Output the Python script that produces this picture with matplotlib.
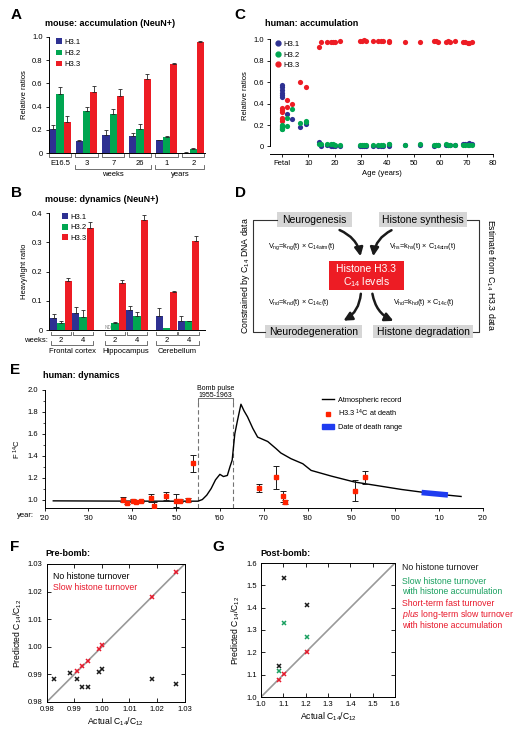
import numpy as np
import matplotlib
matplotlib.use('Agg')
import matplotlib.pyplot as plt
from matplotlib.patches import Rectangle, FancyArrowPatch, Patch
from matplotlib.lines import Line2D

plt.rcParams['font.family'] = ['Liberation Sans', 'DejaVu Sans']
plt.rcParams['mathtext.fontset'] = 'custom'
plt.rcParams['mathtext.rm'] = 'Liberation Sans'
plt.rcParams['mathtext.it'] = 'Liberation Sans:italic'
plt.rcParams['mathtext.bf'] = 'Liberation Sans:bold'
plt.rcParams['mathtext.default'] = 'regular'
plt.rcParams['axes.linewidth'] = 0.7

BLUE = '#2e3192'
GREEN = '#00a651'
RED = '#ed1c24'

# ---- A: mouse accumulation
a_groups = ['E16.5', '3', '7', '26', '1', '2']
a_h31 = [0.21, 0.10, 0.155, 0.145, 0.11, 0.003]
a_h31_err = [0.03, 0.01, 0.045, 0.03, 0.005, 0.002]
a_h32 = [0.51, 0.36, 0.34, 0.21, 0.14, 0.035]
a_h32_err = [0.055, 0.04, 0.035, 0.043, 0.005, 0.006]
a_h33 = [0.27, 0.525, 0.49, 0.635, 0.765, 0.958]
a_h33_err = [0.045, 0.055, 0.06, 0.05, 0.012, 0.008]

# ---- B: mouse dynamics
b_weeks = ['2', '4', '2', '4', '2', '4']
b_regions = ['Frontal cortex', 'Hippocampus', 'Cerebellum']
b_h31 = [0.042, 0.057, 0.0, 0.067, 0.049, 0.032]
b_h31_err = [0.014, 0.022, 0.0, 0.015, 0.026, 0.016]
b_h32 = [0.023, 0.045, 0.025, 0.049, 0.008, 0.03]
b_h32_err = [0.008, 0.023, 0.004, 0.013, 0.0, 0.001]
b_h33 = [0.166, 0.349, 0.159, 0.375, 0.129, 0.303]
b_h33_err = [0.011, 0.019, 0.013, 0.019, 0.006, 0.018]

# ---- C: human accumulation
c_blue_age = [0, 0, 0, 0, 0, 0, 2, 4, 7, 9]
c_blue = [0.57, 0.55, 0.53, 0.50, 0.48, 0.465, 0.30, 0.255, 0.185, 0.205]
c_green_age = [0, 0, 0, 0, 0, 0, 2, 2, 4, 7, 9, 9]
c_green = [0.20, 0.19, 0.18, 0.17, 0.165, 0.16, 0.27, 0.19, 0.345, 0.215, 0.23, 0.24]
c_red_age = [0, 0, 0, 0, 0, 0, 2, 2, 4, 7, 9]
c_red = [0.355, 0.34, 0.325, 0.27, 0.257, 0.24, 0.435, 0.37, 0.40, 0.60, 0.55]
adult_age = [14, 15, 17, 18.5, 19.5, 20, 22, 29.5, 30.5, 31.3, 32, 34.5, 36.5, 37.5, 38.5,
             40.5, 40.7, 46.5, 52.5, 57.5, 58.5, 59, 62.2, 63, 63.8, 65.5, 68.5, 69.5, 70.5, 71, 72]
adult_red = [0.93, 0.978, 0.97, 0.97, 0.972, 0.975, 0.985, 0.98, 0.985, 0.99, 0.98, 0.985, 0.985,
             0.985, 0.98, 0.985, 0.975, 0.975, 0.97, 0.98, 0.98, 0.97, 0.975, 0.98, 0.97, 0.98,
             0.97, 0.975, 0.96, 0.965, 0.97]
adult_blue = [0.045, 0.0, 0.01, 0.005, 0.0, 0.0, 0.0, 0.005, 0.0, 0.005, 0.0, 0.005, 0.0, 0.0, 0.005,
              0.01, 0.005, 0.01, 0.01, 0.005, 0.01, 0.01, 0.01, 0.015, 0.01, 0.01, 0.02, 0.025, 0.02,
              0.03, 0.02]
adult_green = [0.025, 0.02, 0.02, 0.02, 0.02, 0.015, 0.01, 0.015, 0.01, 0.015, 0.01, 0.015, 0.01,
               0.015, 0.01, 0.02, 0.02, 0.015, 0.02, 0.01, 0.015, 0.015, 0.02, 0.01, 0.015, 0.01,
               0.015, 0.015, 0.01, 0.015, 0.015]

# ---- E: human dynamics
atm_year = [1922, 1935, 1945, 1955, 1956, 1957, 1958, 1959, 1960, 1960.8, 1961.7, 1962.3, 1962.8,
            1963.4, 1964, 1964.8, 1965.5, 1966.3, 1967.5, 1968.6, 1970.9, 1972.8, 1973.9, 1976.2,
            1978.9, 1980.8, 1985.4, 1990.7, 2001.4, 2009, 2015]
atm_f14c = [0.988, 0.986, 0.985, 0.985, 1.0, 1.04, 1.1, 1.18, 1.23, 1.21, 1.22, 1.3, 1.36, 1.6, 1.72,
            1.87, 1.81, 1.755, 1.65, 1.57, 1.53, 1.465, 1.425, 1.373, 1.327, 1.266, 1.214, 1.16,
            1.092, 1.052, 1.028]
death_year = [2006, 2012]
death_f14c = [1.064, 1.042]
pt_year = [1937.8, 1938.8, 1940.1, 1940.9, 1941.9, 1944.4, 1944.9, 1947.8, 1949.9, 1950.9, 1952.7,
           1953.9, 1969.0, 1972.9, 1974.5, 1974.9, 1990.9, 1993.0]
pt_f14c = [1.0, 0.965, 0.99, 0.975, 0.99, 1.015, 0.945, 1.03, 0.99, 0.99, 0.995, 1.33, 1.105, 1.205,
           1.028, 0.98, 1.08, 1.205]
pt_err = [0.02, 0.01, 0.015, 0.01, 0.01, 0.035, 0.03, 0.035, 0.06, 0.015, 0.015, 0.08, 0.035, 0.105,
          0.05, 0.02, 0.095, 0.06]

# ---- F: pre-bomb
f_actual = [0.9827, 0.9884, 0.9908, 0.9929, 0.9949, 0.9988, 1.0001, 1.018, 1.0267]
f_none = [0.9884, 0.9904, 0.9882, 0.9854, 0.9853, 0.9908, 0.9921, 0.9884, 0.9864]
f_slow_actual = [0.9908, 0.9929, 0.9949, 0.9988, 1.0001, 1.018, 1.0267]
f_slow = [0.9911, 0.993, 0.995, 0.9992, 1.0008, 1.0182, 1.0272]

# ---- G: post-bomb
g_actual = [1.081, 1.102, 1.206]
g_none = [1.140, 1.531, 1.411]
g_slow = [1.116, 1.330, 1.267]
g_fast = [1.078, 1.101, 1.200]

W, H = 521, 736
fig = plt.figure(figsize=(W / 100, H / 100), dpi=100)


def rect(x0, y0, x1, y1):
    return [x0 / W, 1 - y1 / H, (x1 - x0) / W, (y1 - y0) / H]


def fmt01(v, pos=None):
    return '0' if abs(v) < 1e-9 else f'{v:.1f}'


def bracket(ax, x0, x1, y, h=0.025, color='0.35'):
    ax.plot([x0, x0, x1, x1], [y + h, y, y, y + h], transform=ax.get_xaxis_transform(),
            clip_on=False, color=color, lw=0.6)


def err_up(ax, x, vals, errs):
    x = np.asarray(x)
    vals = np.asarray(vals)
    errs = np.asarray(errs)
    m = errs > 0
    ax.errorbar(x[m], vals[m], yerr=[np.zeros(m.sum()), errs[m]], fmt='none', ecolor='0.15',
                elinewidth=0.6, capsize=1.6, capthick=0.6)


# overlay for letters, titles, diagram
ov = fig.add_axes([0, 0, 1, 1], zorder=-1)
ov.set_xlim(0, W)
ov.set_ylim(H, 0)
ov.axis('off')

for letter, x, y in [('A', 16, 15), ('B', 16, 193), ('C', 240, 15), ('D', 240, 193),
                     ('E', 15, 370), ('F', 15, 547), ('G', 218, 547)]:
    ov.text(x, y, letter, fontsize=11, fontweight='bold', ha='center', va='center')
for title, x, y in [('mouse: accumulation (NeuN+)', 45, 24), ('mouse: dynamics (NeuN+)', 45, 199),
                    ('human: accumulation', 265, 23), ('human: dynamics', 43, 376),
                    ('Pre-bomb:', 45, 553), ('Post-bomb:', 260, 554)]:
    ov.text(x, y, title, fontsize=6.5, fontweight='bold', ha='left', va='center')

# ---------------- A
ax = fig.add_axes(rect(49, 37, 205, 153))
bw = 0.27
xa = np.arange(len(a_groups))
for k, (vals, errs, col, lab) in enumerate([(a_h31, a_h31_err, BLUE, 'H3.1'),
                                            (a_h32, a_h32_err, GREEN, 'H3.2'),
                                            (a_h33, a_h33_err, RED, 'H3.3')]):
    xs = xa + (k - 1) * bw
    ax.bar(xs, vals, width=bw, color=col, label=lab, zorder=2)
    err_up(ax, xs, vals, errs)
ax.set_xlim(-0.41, 5.44)
ax.set_ylim(0, 1.0)
ax.set_yticks(np.arange(0, 1.01, 0.2))
ax.yaxis.set_major_formatter(fmt01)
ax.set_xticks([])
ax.spines[['top', 'right']].set_visible(False)
ax.tick_params(axis='y', labelsize=5.5, length=2.5, width=0.6, pad=2)
ax.set_ylabel('Relative ratios', fontsize=5.5, labelpad=3)
ax.legend(loc='upper left', bbox_to_anchor=(0.02, 1.02), frameon=False, fontsize=5.5,
          handlelength=0.8, handleheight=0.8, handletextpad=0.3, labelspacing=0.45, borderpad=0)
for i, g in enumerate(a_groups):
    bracket(ax, i - 0.42, i + 0.42, -0.035)
    ax.text(i, -0.088, g, transform=ax.get_xaxis_transform(), ha='center', va='center', fontsize=5.5)
bracket(ax, 1 - 0.42, 3 + 0.42, -0.135, 0.03)
ax.text(2, -0.185, 'weeks', transform=ax.get_xaxis_transform(), ha='center', va='center', fontsize=5.5)
bracket(ax, 4 - 0.42, 5 + 0.42, -0.135, 0.03)
ax.text(4.5, -0.185, 'years', transform=ax.get_xaxis_transform(), ha='center', va='center', fontsize=5.5)

# ---------------- B
ax = fig.add_axes(rect(49, 213, 205, 330))
bw = 0.33
xb = np.arange(6) + np.repeat([0, 0.45, 0.8], 2)
for k, (vals, errs, col, lab) in enumerate([(b_h31, b_h31_err, BLUE, 'H3.1'),
                                            (b_h32, b_h32_err, GREEN, 'H3.2'),
                                            (b_h33, b_h33_err, RED, 'H3.3')]):
    xs = xb + (k - 1) * bw
    ax.bar(xs, vals, width=bw, color=col, label=lab, zorder=2)
    err_up(ax, xs, vals, errs)
ax.text(xb[2] - bw, 0.001, 'ND', fontsize=3.5, color='0.55', ha='center', va='bottom')
ax.set_xlim(-0.55, 6.55)
ax.set_ylim(0, 0.4)
ax.set_yticks(np.arange(0, 0.41, 0.1))
ax.yaxis.set_major_formatter(fmt01)
ax.set_xticks([])
ax.spines[['top', 'right']].set_visible(False)
ax.tick_params(axis='y', labelsize=5.5, length=2.5, width=0.6, pad=2)
ax.set_ylabel('Heavy/light ratio', fontsize=5.5, labelpad=3)
ax.legend(loc='upper left', bbox_to_anchor=(0.06, 1.03), frameon=False, fontsize=5.5,
          handlelength=0.8, handleheight=0.8, handletextpad=0.3, labelspacing=0.38, borderpad=0)
for i, wk in enumerate(b_weeks):
    bracket(ax, xb[i] - 0.47, xb[i] + 0.47, -0.043)
    ax.text(xb[i], -0.088, wk, transform=ax.get_xaxis_transform(), ha='center', va='center', fontsize=5.5)
ax.text(-0.62, -0.088, 'weeks:', transform=ax.get_xaxis_transform(), ha='right', va='center', fontsize=5.5)
for j, reg in enumerate(b_regions):
    bracket(ax, xb[2 * j] - 0.47, xb[2 * j + 1] + 0.47, -0.128, 0.03)
    ax.text((xb[2 * j] + xb[2 * j + 1]) / 2, -0.18, reg, transform=ax.get_xaxis_transform(),
            ha='center', va='center', fontsize=5.5)

# ---------------- C
ax = fig.add_axes(rect(270, 37, 493, 154))
ax.scatter(c_red_age + adult_age, c_red + adult_red, s=14, color=RED, lw=0, zorder=2)
ax.scatter(c_blue_age + adult_age, c_blue + adult_blue, s=14, color=BLUE, lw=0, zorder=3)
ax.scatter(c_green_age + adult_age, c_green + adult_green, s=14, color=GREEN, lw=0, zorder=4)
ax.set_xlim(-4.5, 80)
ax.set_ylim(-0.07, 1.02)
ax.set_xticks(range(0, 81, 10))
ax.set_xticklabels(['Fetal'] + [str(v) for v in range(10, 81, 10)])
ax.set_yticks(np.arange(0, 1.01, 0.2))
ax.yaxis.set_major_formatter(fmt01)
ax.spines[['top', 'right']].set_visible(False)
ax.spines['left'].set_bounds(0, 1.0)
ax.tick_params(labelsize=5.5, length=2.5, width=0.6, pad=2)
ax.set_ylabel('Relative ratios', fontsize=5.5, labelpad=3)
ax.set_xlabel('Age (years)', fontsize=5.5, labelpad=2)
hc = [Line2D([], [], marker='o', ls='', color=c, ms=3.5, label=l)
      for c, l in [(BLUE, 'H3.1'), (GREEN, 'H3.2'), (RED, 'H3.3')]]
ax.legend(handles=hc, loc='upper left', bbox_to_anchor=(0.005, 1.0), frameon=False, fontsize=5.5,
          handlelength=0.8, handletextpad=0.3, labelspacing=0.4, borderpad=0)

# ---------------- D (diagram)
gray = '#d6d6d6'
boxes = [('Neurogenesis', 277, 212, 352, 227), ('Histone synthesis', 379, 212, 467, 227),
         ('Neurodegeneration', 265, 325, 362, 338), ('Histone degradation', 373, 325, 473, 338)]
for txt, x0, y0, x1, y1 in boxes:
    ov.add_patch(Rectangle((x0, y0), x1 - x0, y1 - y0, color=gray, lw=0))
    ov.text((x0 + x1) / 2, (y0 + y1) / 2 + 0.5, txt, ha='center', va='center', fontsize=7.5)
ov.add_patch(Rectangle((329, 261), 75, 29, color=RED, lw=0))
ov.text(366.5, 269, 'Histone H3.3', ha='center', va='center', fontsize=7.5, color='white')
ov.text(366.5, 282, r'C$_{14}$ levels', ha='center', va='center', fontsize=7.5, color='white')
ov.plot([277, 253, 253, 265], [219.5, 219.5, 331.5, 331.5], color='0.2', lw=0.8)
ov.plot([467, 479, 479, 473], [219.5, 219.5, 331.5, 331.5], color='0.2', lw=0.8)
ov.text(246, 275, r'Constrained by C$_{14}$ DNA data', rotation=90, ha='center', va='center', fontsize=6.3)
ov.text(490, 275, r'Estimate from C$_{14}$ H3.3 data', rotation=-90, ha='center', va='center', fontsize=6.3)
eq = 5.2
ov.text(268, 247, r'V$_{ng}$=k$_{ng}$(t) × C$_{14atm}$(t)', ha='left', va='center', fontsize=eq)
ov.text(389, 247, r'V$_{hs}$=k$_{hs}$(t) × C$_{14atm}$(t)', ha='left', va='center', fontsize=eq)
ov.text(268, 303, r'V$_{nd}$=k$_{nd}$(t) × C$_{14c}$(t)', ha='left', va='center', fontsize=eq)
ov.text(393, 303, r'V$_{hd}$=k$_{hd}$(t) × C$_{14c}$(t)', ha='left', va='center', fontsize=eq)
for (p0, p1, rad) in [((337, 229), (361, 259), -0.3), ((394, 229), (373, 259), 0.3),
                      ((361, 291), (341, 322), -0.3), ((372, 291), (396, 322), 0.3)]:
    ov.add_patch(FancyArrowPatch(p0, p1, connectionstyle=f'arc3,rad={rad}',
                                 arrowstyle='-|>,head_length=0.5,head_width=0.25',
                                 mutation_scale=10, lw=1.8, color='0.1'))

# ---------------- E
ax = fig.add_axes(rect(44.5, 390, 483, 508.3))
ax.plot(atm_year, atm_f14c, color='black', lw=1.0, zorder=2, label='Atmospheric record')
ax.plot(death_year, death_f14c, color='#1f3cf0', lw=4, solid_capstyle='butt', zorder=3)
ax.errorbar(pt_year, pt_f14c, yerr=pt_err, fmt='none', ecolor='0.1', elinewidth=0.7,
            capsize=2.2, capthick=0.7, zorder=4)
ax.plot(pt_year, pt_f14c, ls='', marker='s', ms=3.3, color='#ff2200', zorder=5)
for yr in (1955, 1963):
    ax.plot([yr, yr], [0.92, 1.925], color='0.45', lw=0.8, ls=(0, (4, 2.5)), zorder=1)
ax.plot([1955, 1955, 1963, 1963], [1.895, 1.925, 1.925, 1.895], color='0.45', lw=0.7, clip_on=False)
ax.text(1959, 1.985, 'Bomb pulse\n1955-1963', ha='center', va='center', fontsize=5, linespacing=1.0)
ax.set_xlim(1920, 2020)
ax.set_ylim(0.92, 2.0)
ax.set_xticks(range(1920, 2021, 10))
ax.set_xticklabels([f"'{y % 100:02d}" for y in range(1920, 2021, 10)])
ax.set_yticks(np.arange(1.0, 2.01, 0.2))
ax.set_yticks(np.arange(1.1, 2.0, 0.2), minor=True)
ax.yaxis.set_major_formatter(lambda v, p: f'{v:.1f}')
ax.spines[['top', 'right']].set_visible(False)
ax.tick_params(labelsize=5.5, length=2.5, width=0.6, pad=2)
ax.tick_params(which='minor', length=1.5, width=0.5)
ax.set_ylabel(r'F $^{14}$C', fontsize=5.5, labelpad=3)
ax.text(1917.5, -0.035, 'year:', transform=ax.get_xaxis_transform(), ha='right', va='top', fontsize=5.5)
he = [Line2D([], [], color='black', lw=1.0, label='Atmospheric record'),
      Line2D([], [], color='#ff2200', ls='', marker='s', ms=3, label=r'H3.3 $^{14}$C at death'),
      Patch(color='#1f3cf0', label='Date of death range')]
ax.legend(handles=he, loc='upper left', bbox_to_anchor=(0.625, 0.975), frameon=False, fontsize=5.3,
          handlelength=1.6, handleheight=0.6, handletextpad=0.6, labelspacing=0.6, borderpad=0)

# ---------------- F
ax = fig.add_axes(rect(46.7, 564, 184.7, 702))
ax.plot([0.98, 1.03], [0.98, 1.03], color='0.6', lw=1.2, zorder=1)
ax.plot(f_actual, f_none, ls='', marker='x', ms=3, mew=1.1, color='0.1', zorder=3)
ax.plot(f_slow_actual, f_slow, ls='', marker='x', ms=3, mew=1.1, color='#e8192c', zorder=3)
ax.set_xlim(0.98, 1.03)
ax.set_ylim(0.98, 1.03)
ax.set_xticks(np.arange(0.98, 1.031, 0.01))
ax.set_yticks(np.arange(0.98, 1.031, 0.01))
ax.xaxis.set_major_formatter(lambda v, p: f'{v:.2f}')
ax.yaxis.set_major_formatter(lambda v, p: f'{v:.2f}')
ax.tick_params(direction='in', top=True, right=True, labelsize=5.5, length=3, width=0.6, pad=3)
ax.set_xlabel(r'Actual C$_{14}$/C$_{12}$', fontsize=6.2, labelpad=2)
ax.set_ylabel(r'Predicted C$_{14}$/C$_{12}$', fontsize=6.2, labelpad=3)
ax.text(0.046, 0.913, 'No histone turnover', transform=ax.transAxes, fontsize=6.3, va='center')
ax.text(0.046, 0.833, 'Slow histone turnover', transform=ax.transAxes, fontsize=6.3, va='center',
        color='#e8192c')

# ---------------- G
ax = fig.add_axes(rect(261, 563, 395, 697))
ax.plot([1.0, 1.6], [1.0, 1.6], color='0.6', lw=1.2, zorder=1)
ax.plot(g_actual, g_none, ls='', marker='x', ms=3, mew=1.1, color='0.1', zorder=3)
ax.plot(g_actual, g_slow, ls='', marker='x', ms=3, mew=1.1, color='#1aa060', zorder=3)
ax.plot(g_actual, g_fast, ls='', marker='x', ms=3, mew=1.1, color='#e8192c', zorder=3)
ax.set_xlim(1.0, 1.6)
ax.set_ylim(1.0, 1.6)
ax.set_xticks(np.arange(1.0, 1.61, 0.1))
ax.set_yticks(np.arange(1.0, 1.61, 0.1))
ax.xaxis.set_major_formatter(lambda v, p: f'{v:.1f}')
ax.yaxis.set_major_formatter(lambda v, p: f'{v:.1f}')
ax.tick_params(direction='in', top=True, right=True, labelsize=5.5, length=3, width=0.6, pad=3)
ax.set_xlabel(r'Actual C$_{14}$/C$_{12}$', fontsize=6.2, labelpad=2)
ax.set_ylabel(r'Predicted C$_{14}$/C$_{12}$', fontsize=6.2, labelpad=3)
g_notes = [('No histone turnover', 567, '0.1'),
           ('Slow histone turnover', 581, '#1aa060'), ('with histone accumulation', 591.5, '#1aa060'),
           ('Short-term fast turnover', 604, '#e8192c'),
           (r'$\it{plus}$ long-term slow turnover', 614.5, '#e8192c'),
           ('with histone accumulation', 625, '#e8192c')]
for txt, y, col in g_notes:
    ov.text(402, y, txt, fontsize=6.3, color=col, ha='left', va='center')

fig.savefig('out.png', dpi=100)
